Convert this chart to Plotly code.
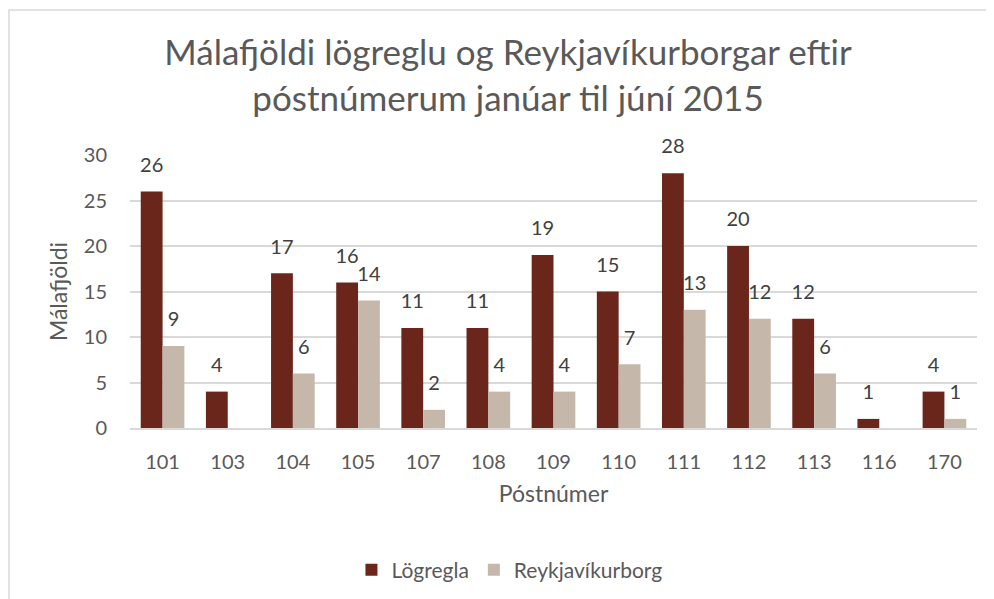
import plotly.graph_objects as go

categories = ["101", "103", "104", "105", "107", "108", "109", "110", "111", "112", "113", "116", "170"]
logregla = [26, 4, 17, 16, 11, 11, 19, 15, 28, 20, 12, 1, 4]
reykjavik = [9, None, 6, 14, 2, 4, 4, 7, 13, 12, 6, None, 1]
series_names = ["Lögregla", "Reykjavíkurborg"]
y_ticks = [0, 5, 10, 15, 20, 25, 30]

FONT = "Lato, Open Sans, sans-serif"
C1 = "#6B261B"
C2 = "#C5B8AB"
W, H = 986, 591
L, T, R, B = 122, 147, 17, 171
PW, PH = W - L - R, H - T - B

fig = go.Figure()
for name, vals, col, grp in [(series_names[0], logregla, C1, "a"), (series_names[1], reykjavik, C2, "b")]:
    fig.add_trace(go.Bar(x=categories, y=vals, name=name, marker=dict(color=col, line=dict(width=0)),
                         offsetgroup=grp, alignmentgroup="g"))
for vals, grp in [(logregla, "a"), (reykjavik, "b")]:
    fig.add_trace(go.Scatter(x=categories, y=vals, mode="markers+text", text=[("" if v is None else str(v)) for v in vals],
                             textposition="top center", textfont=dict(size=20, color="#404040", family=FONT),
                             marker=dict(size=22, opacity=0), offsetgroup=grp, alignmentgroup="g",
                             showlegend=False, hoverinfo="skip", cliponaxis=False))

fig.update_layout(
    width=W, height=H,
    paper_bgcolor="white", plot_bgcolor="white",
    margin=dict(l=L, r=R, t=T, b=B, autoexpand=False),
    barmode="group", bargap=0.33, bargroupgap=0,
    scattermode="group", scattergap=0.33,
    font=dict(family=FONT, color="#595959"),
    title=dict(text="Málafjöldi lögreglu og Reykjavíkurborgar eftir<br>póstnúmerum janúar til júní 2015",
               x=500 / W, xanchor="center", y=0.903, yanchor="middle", yref="container",
               font=dict(size=35, color="#595959", family=FONT)),
    xaxis=dict(type="category", showgrid=False, showline=True, linecolor="#D9D9D9", linewidth=1.5,
               tickfont=dict(size=20, color="#595959"), ticks="", ticklabelstandoff=15, automargin=False,
               title=dict(text="Póstnúmer", font=dict(size=23, color="#595959"), standoff=14)),
    yaxis=dict(range=[0, 30], tickvals=y_ticks, showgrid=True, gridcolor="#D9D9D9", gridwidth=1.5,
               zeroline=False, showline=False, tickfont=dict(size=20, color="#595959"), ticks="",
               ticklabelstandoff=22, automargin=False,
               title=dict(text="Málafjöldi", font=dict(size=23, color="#595959"), standoff=9)),
    legend=dict(orientation="h", x=0.448, xanchor="center", y=-(570 - 8 - (T + PH)) / PH, yanchor="middle",
                font=dict(size=21, color="#595959"), itemwidth=30, traceorder="normal"),
    shapes=[dict(type="rect", xref="paper", yref="paper", x0=(1 - L) / PW, x1=1.3,
                 y0=-1.0, y1=(T + PH - 2) / PH, line=dict(color="#D9D9D9", width=1.5), layer="below")],
)

fig.write_html("out.html")
